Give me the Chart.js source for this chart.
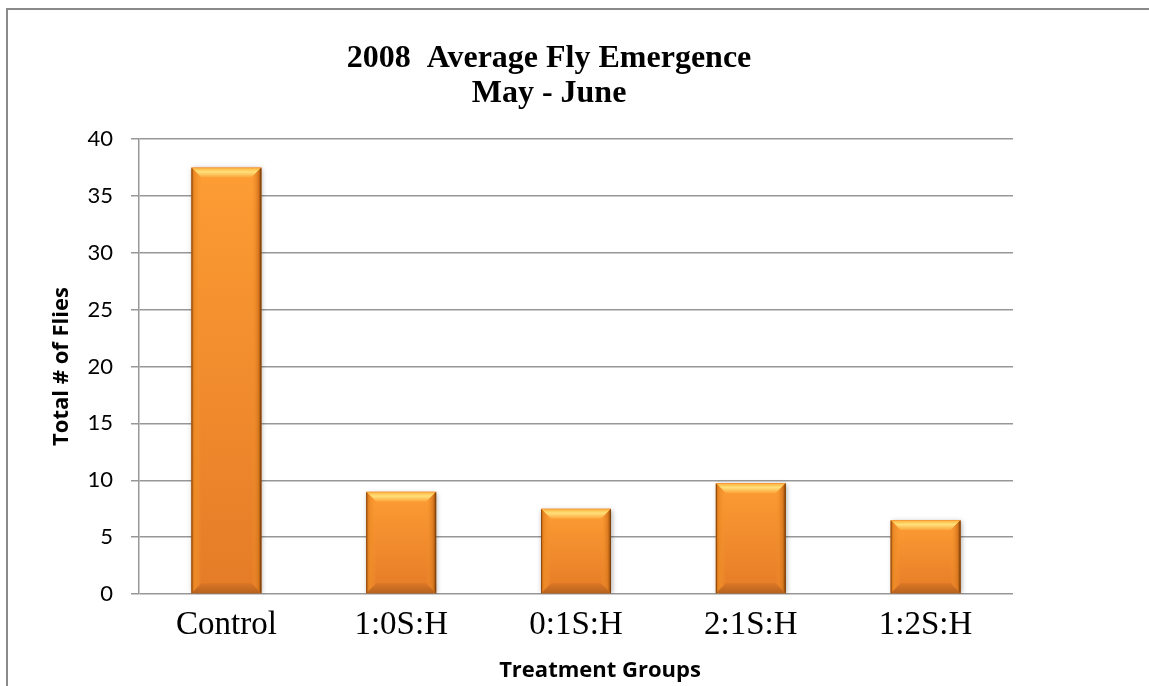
<!DOCTYPE html>
<html>
<head>
<meta charset="utf-8">
<script src="https://cdn.jsdelivr.net/npm/chart.js@4"></script>
<style>
  html, body { margin: 0; padding: 0; background: #ffffff; }
  #wrap { position: relative; width: 1149px; height: 686px; }
</style>
</head>
<body>
<div id="wrap"><canvas id="chart" width="1149" height="686"></canvas></div>
<script>
// Average fly emergence per treatment group, May - June 2008
const categories = ['Control', '1:0S:H', '0:1S:H', '2:1S:H', '1:2S:H'];
const averageFlies = [37.5, 9, 7.5, 9.75, 6.5];
const yTicks = [0, 5, 10, 15, 20, 25, 30, 35, 40];

const titleLines = ['2008  Average Fly Emergence', 'May - June'];
const xAxisTitle = 'Treatment Groups';
const yAxisTitle = 'Total # of Flies';

const GRID = '#979797';

// Outer frame edges (left and top) of the chart object
const framePlugin = {
  id: 'frame',
  beforeDraw(chart) {
    const ctx = chart.ctx;
    ctx.save();
    ctx.strokeStyle = '#8a8a8a';
    ctx.lineWidth = 2;
    ctx.beginPath();
    ctx.moveTo(7, chart.height);
    ctx.lineTo(7, 9);
    ctx.lineTo(chart.width, 9);
    ctx.stroke();
    ctx.restore();
  }
};

// Two-line chart heading, centred over the plot
const headingPlugin = {
  id: 'heading',
  afterDraw(chart) {
    const ctx = chart.ctx;
    ctx.save();
    ctx.font = 'bold 32px "Liberation Serif"';
    ctx.fillStyle = '#000';
    ctx.textAlign = 'center';
    ctx.textBaseline = 'alphabetic';
    ctx.fillText(titleLines[0], 549, 67);
    ctx.fillText(titleLines[1], 549, 102);
    ctx.restore();
  }
};

// Soft drop shadow under the bars
const shadowPlugin = {
  id: 'barShadow',
  beforeDatasetsDraw(chart) {
    const ctx = chart.ctx;
    ctx.save();
    ctx.shadowColor = 'rgba(0,0,0,0.35)';
    ctx.shadowBlur = 5;
    ctx.shadowOffsetX = 1;
    ctx.shadowOffsetY = 1;
  },
  afterDatasetsDraw(chart) {
    chart.ctx.restore();
  }
};

// Beveled edges drawn over each bar element
const bevelPlugin = {
  id: 'bevel',
  afterDatasetsDraw(chart) {
    const ctx = chart.ctx;
    const meta = chart.getDatasetMeta(0);
    meta.data.forEach(bar => {
      const L = bar.x - bar.width / 2;
      const R = bar.x + bar.width / 2;
      const T = bar.y;
      const B = bar.base;
      const b = 10;
      ctx.save();
      // top bevel
      let g = ctx.createLinearGradient(0, T, 0, T + b);
      g.addColorStop(0, '#f19030');
      g.addColorStop(0.15, '#ffc04e');
      g.addColorStop(0.45, '#ffe07a');
      g.addColorStop(1, '#fca43c');
      ctx.fillStyle = g;
      ctx.beginPath();
      ctx.moveTo(L, T); ctx.lineTo(R, T); ctx.lineTo(R - b, T + b); ctx.lineTo(L + b, T + b);
      ctx.closePath(); ctx.fill();
      // left bevel
      g = ctx.createLinearGradient(L, 0, L + b, 0);
      g.addColorStop(0, '#c56814');
      g.addColorStop(0.3, '#ec8a26');
      g.addColorStop(1, 'rgba(248,150,48,0)');
      ctx.fillStyle = g;
      ctx.beginPath();
      ctx.moveTo(L, T); ctx.lineTo(L + b, T + b); ctx.lineTo(L + b, B - b); ctx.lineTo(L, B);
      ctx.closePath(); ctx.fill();
      // right bevel
      g = ctx.createLinearGradient(R, 0, R - b, 0);
      g.addColorStop(0, '#864509');
      g.addColorStop(0.3, '#d9781e');
      g.addColorStop(1, 'rgba(248,150,48,0)');
      ctx.fillStyle = g;
      ctx.beginPath();
      ctx.moveTo(R, T); ctx.lineTo(R - b, T + b); ctx.lineTo(R - b, B - b); ctx.lineTo(R, B);
      ctx.closePath(); ctx.fill();
      // bottom bevel
      g = ctx.createLinearGradient(0, B - b, 0, B);
      g.addColorStop(0, 'rgba(205,110,35,0.5)');
      g.addColorStop(1, '#b4621c');
      ctx.fillStyle = g;
      ctx.beginPath();
      ctx.moveTo(L, B); ctx.lineTo(R, B); ctx.lineTo(R - b, B - b); ctx.lineTo(L + b, B - b);
      ctx.closePath(); ctx.fill();
      // thin dark outline on the sides
      ctx.strokeStyle = 'rgba(120,60,10,0.75)';
      ctx.lineWidth = 1;
      ctx.beginPath();
      ctx.moveTo(L + 0.5, T + 1); ctx.lineTo(L + 0.5, B);
      ctx.moveTo(R - 0.5, T + 1); ctx.lineTo(R - 0.5, B);
      ctx.stroke();
      ctx.restore();
    });
  }
};

// Horizontal axis caption
const xTitlePlugin = {
  id: 'xTitle',
  afterDraw(chart) {
    const ctx = chart.ctx;
    ctx.save();
    ctx.font = 'bold 22px "Open Sans"';
    ctx.fillStyle = '#000';
    ctx.textAlign = 'center';
    ctx.textBaseline = 'alphabetic';
    ctx.fillText(xAxisTitle, 600, 677);
    ctx.restore();
  }
};

// Vertical face gradient for each bar, from its own top to the baseline
function faceGradient(context) {
  const chart = context.chart;
  const yScale = chart.scales.y;
  if (!yScale || context.raw === undefined) return '#f39030';
  const top = yScale.getPixelForValue(context.raw);
  const bottom = yScale.getPixelForValue(0);
  if (!isFinite(top) || !isFinite(bottom) || top === bottom) return '#f39030';
  const g = chart.ctx.createLinearGradient(0, top, 0, bottom);
  g.addColorStop(0, '#fd9d34');
  g.addColorStop(1, '#e57b27');
  return g;
}

new Chart(document.getElementById('chart'), {
  type: 'bar',
  data: {
    labels: categories,
    datasets: [{
      data: averageFlies,
      backgroundColor: faceGradient,
      borderWidth: 0,
      categoryPercentage: 0.8,
      barPercentage: 0.5
    }]
  },
  options: {
    responsive: false,
    animation: false,
    events: [],
    layout: { padding: { left: 8, right: 136, top: 139, bottom: 0 } },
    plugins: {
      legend: { display: false },
      tooltip: { enabled: false },
      title: { display: false }
    },
    scales: {
      x: {
        grid: { display: false, drawTicks: false },
        border: { display: false },
        ticks: {
          color: '#000',
          padding: 12,
          font: { family: 'Liberation Serif', size: 33 }
        },
        afterFit(scale) { scale.height = 92; }
      },
      y: {
        min: 0,
        max: 40,
        afterBuildTicks(scale) { scale.ticks = yTicks.map(v => ({ value: v })); },
        grid: { color: GRID, lineWidth: 1.5, tickLength: 8 },
        border: { display: true, color: GRID, width: 1.5 },
        ticks: {
          color: '#000',
          padding: 18,
          font: { family: 'Lato', size: 22 }
        },
        title: {
          display: true,
          text: yAxisTitle,
          color: '#000',
          font: { family: 'Open Sans', size: 22, weight: 'bold', lineHeight: 1.2 },
          padding: { top: 41, bottom: 0 }
        },
        afterFit(scale) { scale.width = 131; }
      }
    }
  },
  plugins: [framePlugin, headingPlugin, shadowPlugin, bevelPlugin, xTitlePlugin]
});
</script>
</body>
</html>
